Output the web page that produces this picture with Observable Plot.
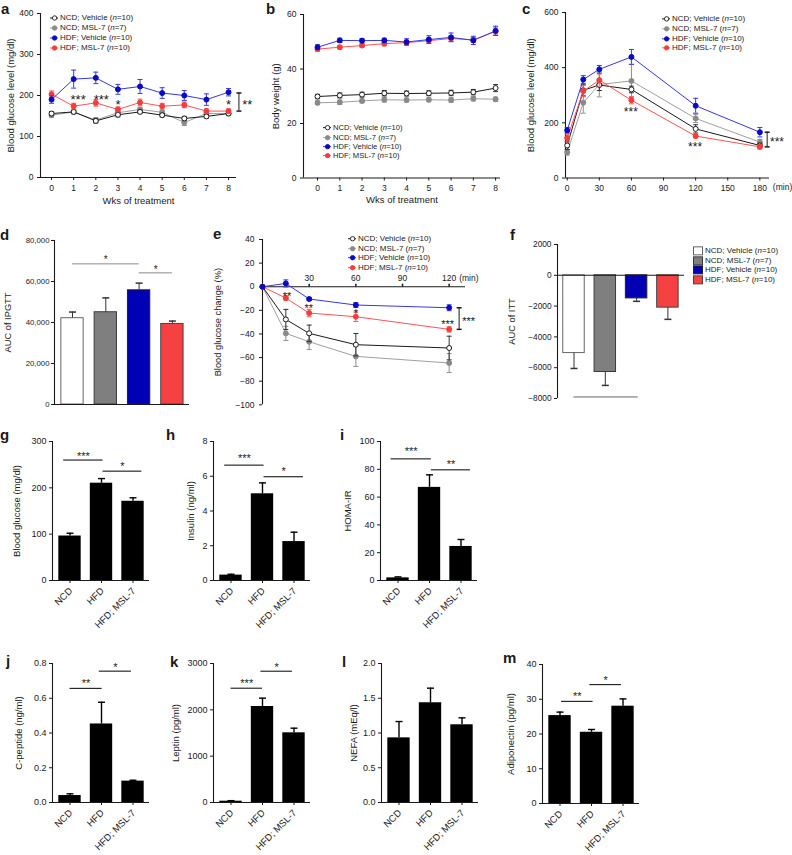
<!DOCTYPE html>
<html><head><meta charset="utf-8">
<script src="https://cdn.jsdelivr.net/npm/d3@7"></script>
<script src="https://cdn.jsdelivr.net/npm/@observablehq/plot@0.6"></script>
<style>
body{margin:0;background:#fff;}
#root{position:relative;width:792px;height:855px;overflow:hidden;font-family:"Liberation Sans",Arial,Helvetica,sans-serif;color:#1a1a1a;}
.plab{position:absolute;font-weight:bold;font-size:15px;line-height:15px;}
.legrow{position:absolute;white-space:nowrap;color:#222;}
.legrow svg{vertical-align:top;margin-right:1px;}
</style></head><body><div id="root"></div>
<script>
// ---------------- DATA ----------------
const groups = ["NCD; Vehicle", "NCD; MSL-7", "HDF; Vehicle", "HDF; MSL-7"];
const groupN = [10, 7, 10, 10];
const weeks = [0, 1, 2, 3, 4, 5, 6, 7, 8];

// a: fasting blood glucose (mg/dl) over weeks
const aNcdVeh = [156, 160, 138, 153, 160, 152, 144, 149, 156];
const aNcdVehErr = [5, 4, 5, 5, 4, 4, 5, 4, 4];
const aNcdMsl = [152, 160, 140, 158, 166, 159, 134, 156, 156];
const aNcdMslErr = [5, 5, 6, 5, 5, 5, 7, 5, 4];
const aHdfVeh = [190, 240, 243, 215, 222, 206, 200, 190, 208];
const aHdfVehErr = [9, 22, 14, 12, 17, 13, 12, 14, 9];
const aHdfMsl = [203, 174, 182, 166, 183, 174, 177, 162, 162];
const aHdfMslErr = [8, 7, 8, 6, 8, 7, 7, 5, 5];
const aStars = [{x: 1.2, y: 196, s: "***"}, {x: 2.25, y: 196, s: "***"}, {x: 3.0, y: 184, s: "*"}, {x: 8.0, y: 184, s: "*"}];
const aBracket = {x: 8.47, y1: 162, y2: 206, lx: 8.85, ly: 184, s: "**"};

// b: body weight (g)
const bNcdVeh = [29.9, 30.3, 30.6, 31.1, 31.0, 31.1, 31.2, 31.5, 33.0];
const bNcdVehErr = [0.8, 0.9, 0.9, 1.0, 0.9, 0.9, 1.0, 1.0, 1.3];
const bNcdMsl = [27.6, 27.8, 28.3, 28.7, 28.6, 28.7, 28.6, 29.1, 28.9];
const bNcdMslErr = [0.7, 0.8, 0.7, 0.8, 0.7, 0.7, 0.8, 0.8, 0.8];
const bHdfVeh = [48.0, 50.5, 50.4, 50.5, 49.9, 50.8, 51.6, 50.5, 54.0];
const bHdfVehErr = [0.9, 0.8, 0.8, 0.8, 1.2, 1.4, 1.6, 1.5, 1.7];
const bHdfMsl = [47.3, 48.0, 48.6, 49.3, 49.7, 50.4, 51.2, 50.7, 53.8];
const bHdfMslErr = [0.8, 0.6, 0.6, 0.8, 0.8, 0.9, 1.0, 0.9, 1.3];

// c: IPGTT blood glucose (mg/dl)
const cTime = [0, 15, 30, 60, 120, 180];
const cNcdVeh = [118, 318, 337, 321, 178, 118];
const cNcdVehErr = [15, 20, 20, 12, 15, 8];
const cNcdMsl = [93, 273, 339, 352, 216, 130];
const cNcdMslErr = [10, 38, 45, 60, 15, 10];
const cHdfVeh = [173, 357, 394, 439, 262, 166];
const cHdfVehErr = [10, 14, 14, 27, 27, 17];
const cHdfMsl = [145, 315, 355, 282, 152, 113];
const cHdfMslErr = [14, 20, 22, 13, 6, 8];
const cStars = [{x: 59.4, y: 248, s: "***"}, {x: 119.5, y: 121, s: "***"}];
const cBracket = {x: 186.8, y1: 113, y2: 166, lx: 196, ly: 140, s: "***"};

// d: AUC of IPGTT
const dAuc = [42100, 45000, 55700, 39300];
const dErr = [3000, 7000, 3500, 1400];
const dSig = [{a: 0, b: 2, y: 68600, sy: 71600, s: "*"}, {a: 2, b: 3, y: 64200, sy: 67000, s: "*"}];

// e: ITT blood glucose change (%)
const eTime = [0, 15, 30, 60, 120];
const eNcdVeh = [0, -27.7, -39.5, -49.1, -51.9];
const eNcdVehErr = [0, 8.5, 7, 9.5, 10];
const eNcdMsl = [0, -39.5, -46.6, -59, -64.6];
const eNcdMslErr = [0, 6, 6.5, 8.5, 8];
const eHdfVeh = [0, 2.8, -10.4, -15.5, -17.8];
const eHdfVehErr = [0, 3, 1.2, 2, 2.5];
const eHdfMsl = [0, -9.6, -22.3, -25.4, -36.1];
const eHdfMslErr = [0, 1.8, 3.2, 4, 2.2];
const eStars = [{x: 15.7, y: -5.6, s: "**"}, {x: 29.8, y: -15.5, s: "**"}, {x: 60, y: -19.8, s: "*"}, {x: 119, y: -29.6, s: "***"}];
const eBracket = {x: 126.4, y1: -36.1, y2: -17.8, lx: 132.5, ly: -27, s: "***"};
const eTicks = [30, 60, 90, 120];

// f: AUC of ITT
const fAuc = [-5050, -6280, -1500, -2100];
const fErr = [1000, 870, 190, 760];
const fSig = [{a: 0, b: 2.05, y: -7900}];

// g-m: serum parameters
const barGroups = ["NCD", "HFD", "HFD; MSL-7"];
const gVals = [96, 210, 171],      gErrs = [6, 10, 7.5];
const hVals = [0.31, 4.99, 2.24],  hErrs = [0.05, 0.63, 0.54];
const iVals = [1.9, 67, 24.5],     iErrs = [0.7, 9, 5];
const jVals = [0.04, 0.452, 0.123], jErrs = [0.01, 0.125, 0.005];
const kVals = [28, 2072, 1504],    kErrs = [12, 180, 100];
const lVals = [0.93, 1.435, 1.118], lErrs = [0.235, 0.21, 0.1];
const mVals = [25.3, 20.5, 28.0],  mErrs = [1.0, 0.8, 2.1];
const gSig = [{a: -0.2, b: 1.05, y: 260, sy: 274, s: "***"}, {a: 1.05, b: 2.28, y: 236, sy: 252, s: "*"}];
const hSig = [{a: -0.2, b: 1.05, y: 6.64, sy: 7.19, s: "***"}, {a: 1.05, b: 2.3, y: 5.97, sy: 6.46, s: "*"}];
const iSig = [{a: -0.22, b: 1.06, y: 87.5, sy: 94.7, s: "***"}, {a: 1.06, b: 2.3, y: 79.6, sy: 85.5, s: "**"}];
const jSig = [{a: 0, b: 1.02, y: 0.657, sy: 0.702, s: "**"}, {a: 0.93, b: 1.95, y: 0.756, sy: 0.794, s: "*"}];
const kSig = [{a: 0, b: 1.0, y: 2467, sy: 2640, s: "***"}, {a: 0.95, b: 1.95, y: 2834, sy: 2975, s: "*"}];
const lSig = [];
const mSig = [{a: 0.05, b: 1.05, y: 29.4, sy: 31.7, s: "**"}, {a: 0.95, b: 1.95, y: 34.2, sy: 36.3, s: "*"}];

// ---------------- HELPERS ----------------
const FONT = '"Liberation Sans", Arial, Helvetica, sans-serif';
const root = document.getElementById("root");
const STY = {
  "NCD; Vehicle": {line: "#1a1a1a", err: "#333333", fill: "#ffffff", stroke: "#1a1a1a"},
  "NCD; MSL-7":   {line: "#a0a0a0", err: "#8e8e8e", fill: "#8a8a8a", stroke: "#8a8a8a"},
  "HDF; Vehicle": {line: "#3636e6", err: "#3a3ae0", fill: "#0a0ac4", stroke: "#0a0ac4"},
  "HDF; MSL-7":   {line: "#ff5252", err: "#f05a5a", fill: "#f43c3c", stroke: "#f43c3c"}
};
const BARFILL = {"NCD; Vehicle": "#ffffff", "NCD; MSL-7": "#7f7f7f", "HDF; Vehicle": "#0000b4", "HDF; MSL-7": "#f54141"};
const BARSTROKE = {"NCD; Vehicle": "#666", "NCD; MSL-7": "#3a3a3a", "HDF; Vehicle": "#222", "HDF; MSL-7": "#444"};

const cap = {draw(ctx, size) { const r = Math.sqrt(size / Math.PI); ctx.moveTo(-r, 0); ctx.lineTo(r, 0); }};
const tickUp = {draw(ctx, size) { const r = Math.sqrt(size / Math.PI); ctx.moveTo(0, 0); ctx.lineTo(0, -r); }};
const minusFmt = d => d < 0 ? "\u2212" + Math.abs(d) : String(d);

function mount(node, left, top) {
  node.style.position = "absolute";
  node.style.left = left + "px";
  node.style.top = top + "px";
  root.appendChild(node);
}
function panel({x0, x1, y0, y1, xDomain, yDomain, fontSize = 8.5, marks}) {
  const svg = Plot.plot({
    width: x1 - x0, height: y1 - y0,
    marginLeft: 0, marginRight: 0, marginTop: 0, marginBottom: 0,
    x: {domain: xDomain, axis: null, label: null},
    y: {domain: yDomain, axis: null, label: null},
    style: `background:transparent;overflow:visible;font-family:${FONT};font-size:${fontSize}px;color:#1a1a1a;`,
    marks
  });
  mount(svg, x0, y0);
}
function rows(xs, vals, errs, g) { return xs.map((x, i) => ({x, v: vals[i], e: errs[i], g})); }
function seriesMarks(d, g, capR = 2.5) {
  const s = STY[g];
  const de = d.filter(q => q.e > 0);
  return [
    Plot.line(d, {x: "x", y: "v", stroke: s.line, strokeWidth: 1}),
    Plot.ruleX(de, {x: "x", y1: q => q.v - q.e, y2: q => q.v + q.e, stroke: s.err, strokeWidth: 1}),
    Plot.dot(de, {x: "x", y: q => q.v + q.e, symbol: cap, r: capR, stroke: s.err, fill: "none", strokeWidth: 1}),
    Plot.dot(de, {x: "x", y: q => q.v - q.e, symbol: cap, r: capR, stroke: s.err, fill: "none", strokeWidth: 1}),
    Plot.dot(d, {x: "x", y: "v", r: 2.5, fill: s.fill, stroke: s.stroke, strokeWidth: 1})
  ];
}
function bracketMarks(b, fs) {
  return [
    Plot.ruleX([b], {x: "x", y1: "y1", y2: "y2", stroke: "#1a1a1a"}),
    Plot.dot([b.y1, b.y2], {x: () => b.x, y: d => d, symbol: cap, r: 2.5, stroke: "#1a1a1a", fill: "none"}),
    Plot.text([b], {x: "lx", y: "ly", text: "s", fontSize: fs, dy: 3})
  ];
}
function axisLines(xd, yd, yAt = yd[0]) {
  return [Plot.ruleX([xd[0]], {strokeWidth: 1.1}), Plot.ruleY([yAt], {strokeWidth: 1.1})];
}
function ylabel(t, dx, fs = 9.5) { return Plot.text([t], {text: d => d, frameAnchor: "left", textAnchor: "middle", rotate: -90, dx, fontSize: fs}); }
function xlabel(t, dy, fs = 9.5) { return Plot.text([t], {text: d => d, frameAnchor: "bottom", textAnchor: "middle", dy, fontSize: fs}); }

function lineLegend(left, top, rowH, fs) {
  groups.forEach((g, i) => {
    const s = STY[g];
    const row = document.createElement("div");
    row.className = "legrow";
    row.style.cssText = `left:${left}px;top:${top + i * rowH}px;font-size:${fs}px;line-height:${rowH}px;height:${rowH}px;`;
    const c = rowH / 2;
    row.innerHTML = `<svg width="9" height="${rowH}"><line x1="0" x2="8" y1="${c}" y2="${c}" stroke="${s.line}" stroke-width="1"/><circle cx="4.6" cy="${c}" r="2.2" fill="${s.fill}" stroke="${s.stroke}" stroke-width="0.9"/></svg>${g} (<i>n</i>=${groupN[i]})`;
    root.appendChild(row);
  });
}
function boxLegend(left, top, rowH, fs) {
  groups.forEach((g, i) => {
    const row = document.createElement("div");
    row.className = "legrow";
    row.style.cssText = `left:${left}px;top:${top + i * rowH}px;font-size:${fs}px;line-height:${rowH}px;height:${rowH}px;`;
    row.innerHTML = `<svg width="11" height="${rowH}"><rect x="0.5" y="${(rowH - 8) / 2}" width="9" height="8" fill="${BARFILL[g]}" stroke="${BARSTROKE[g]}" stroke-width="1"/></svg>${g} (<i>n</i>=${groupN[i]})`;
    root.appendChild(row);
  });
}
function letter(t, left, top) {
  const d = document.createElement("div");
  d.className = "plab"; d.textContent = t;
  d.style.left = left + "px"; d.style.top = top + "px";
  root.appendChild(d);
}

// ---------------- PANEL a ----------------
{
  const xd = [-0.5, 8.36], yd = [0, 400];
  const sets = [["NCD; MSL-7", aNcdMsl, aNcdMslErr], ["NCD; Vehicle", aNcdVeh, aNcdVehErr], ["HDF; MSL-7", aHdfMsl, aHdfMslErr], ["HDF; Vehicle", aHdfVeh, aHdfVehErr]];
  panel({x0: 40, x1: 236, y0: 13, y1: 177, xDomain: xd, yDomain: yd, marks: [
    Plot.axisY({ticks: [0, 100, 200, 300, 400], tickSize: 3, tickPadding: 4, tickFormat: String, label: null}),
    Plot.axisX({ticks: weeks, tickSize: 3, tickPadding: 4, tickFormat: String, label: null}),
    ...axisLines(xd, yd),
    ...sets.flatMap(([g, v, e]) => seriesMarks(rows(weeks, v, e, g), g)),
    Plot.text(aStars, {x: "x", y: "y", text: "s", fontSize: 13, dy: 3}),
    ...bracketMarks(aBracket, 13),
    ylabel("Blood glucose level (mg/dl)", -30),
    xlabel("Wks of treatment", 26)
  ]});
  lineLegend(50, 13.3, 10, 8);
}
// ---------------- PANEL b ----------------
{
  const xd = [-0.63, 8.22], yd = [0, 60];
  const sets = [["NCD; MSL-7", bNcdMsl, bNcdMslErr], ["NCD; Vehicle", bNcdVeh, bNcdVehErr], ["HDF; MSL-7", bHdfMsl, bHdfMslErr], ["HDF; Vehicle", bHdfVeh, bHdfVehErr]];
  panel({x0: 303, x1: 500, y0: 13.5, y1: 177, xDomain: xd, yDomain: yd, marks: [
    Plot.axisY({ticks: [0, 20, 40, 60], tickSize: 3, tickPadding: 4, tickFormat: String, label: null}),
    Plot.axisX({ticks: weeks, tickSize: 3, tickPadding: 4, tickFormat: String, label: null}),
    ...axisLines(xd, yd),
    ...sets.flatMap(([g, v, e]) => seriesMarks(rows(weeks, v, e, g), g)),
    ylabel("Body weight (g)", -28),
    xlabel("Wks of treatment", 25)
  ]});
  lineLegend(323, 123.3, 9.3, 7.6);
}
// ---------------- PANEL c ----------------
{
  const xd = [-1.6, 189], yd = [0, 600];
  const sets = [["NCD; MSL-7", cNcdMsl, cNcdMslErr], ["NCD; Vehicle", cNcdVeh, cNcdVehErr], ["HDF; MSL-7", cHdfMsl, cHdfMslErr], ["HDF; Vehicle", cHdfVeh, cHdfVehErr]];
  panel({x0: 565, x1: 769, y0: 11.5, y1: 177, xDomain: xd, yDomain: yd, marks: [
    Plot.axisY({ticks: [0, 200, 400, 600], tickSize: 3, tickPadding: 4, tickFormat: String, label: null}),
    Plot.axisX({ticks: [0, 30, 60, 90, 120, 150, 180], tickSize: 3, tickPadding: 4, tickFormat: String, label: null}),
    Plot.text(["(min)"], {text: d => d, x: 180, frameAnchor: "bottom", dx: 13, dy: 12, textAnchor: "start", fontSize: 8.5}),
    ...axisLines(xd, yd),
    ...sets.flatMap(([g, v, e]) => seriesMarks(rows(cTime, v, e, g), g)),
    Plot.text(cStars, {x: "x", y: "y", text: "s", fontSize: 12, dy: 3}),
    ...bracketMarks(cBracket, 12),
    ylabel("Blood glucose level (mg/dl)", -35)
  ]});
  lineLegend(662, 14.2, 9.7, 8);
}
// ---------------- PANEL d ----------------
{
  const xd = [-18 / 33.3, 117 / 33.3], yd = [0, 80000];
  const bars = groups.map((g, i) => ({i, g, v: dAuc[i], e: dErr[i]}));
  panel({x0: 54, x1: 189, y0: 240, y1: 404, xDomain: xd, yDomain: yd, fontSize: 7.8, marks: [
    Plot.rect(bars, {x1: d => d.i - 0.335, x2: d => d.i + 0.335, y1: 0, y2: "v", fill: d => BARFILL[d.g], stroke: d => BARSTROKE[d.g], strokeWidth: 1}),
    Plot.ruleX(bars, {x: "i", y1: "v", y2: d => d.v + d.e, stroke: "#333"}),
    Plot.dot(bars, {x: "i", y: d => d.v + d.e, symbol: cap, r: 3.5, stroke: "#333", fill: "none"}),
    Plot.axisY({ticks: [0, 20000, 40000, 60000, 80000], tickSize: 3, tickPadding: 2, tickFormat: d3.format(","), label: null}),
    ...axisLines(xd, yd),
    Plot.ruleY(dSig, {y: "y", x1: "a", x2: "b", stroke: "#888", strokeWidth: 1}),
    Plot.text(dSig, {x: d => (d.a + d.b) / 2, y: "sy", text: "s", fontSize: 10, dy: 2.5}),
    ylabel("AUC of IPGTT", -46, 9.3)
  ]});
}
// ---------------- PANEL e ----------------
{
  const xd = [0, 130.5], yd = [-100, 40];
  const sets = [["NCD; MSL-7", eNcdMsl, eNcdMslErr], ["NCD; Vehicle", eNcdVeh, eNcdVehErr], ["HDF; MSL-7", eHdfMsl, eHdfMslErr], ["HDF; Vehicle", eHdfVeh, eHdfVehErr]];
  panel({x0: 262, x1: 465, y0: 239, y1: 404.3, xDomain: xd, yDomain: yd, marks: [
    Plot.axisY({ticks: [-100, -80, -60, -40, -20, 0, 20, 40], tickSize: 3, tickPadding: 5, tickFormat: minusFmt, label: null}),
    Plot.ruleX([0], {strokeWidth: 1.1}),
    Plot.ruleY([0], {strokeWidth: 1.1}),
    Plot.dot(eTicks, {x: d => d, y: 0, symbol: tickUp, r: 3, stroke: "#1a1a1a", fill: "none"}),
    Plot.text(eTicks, {x: d => d, y: 0, text: d => String(d), dy: -8, fontSize: 8.5}),
    Plot.text(["(min)"], {text: d => d, x: 120, y: 0, dx: 10, dy: -8, textAnchor: "start", fontSize: 8.5}),
    ...sets.flatMap(([g, v, e]) => seriesMarks(rows(eTime, v, e, g), g)),
    Plot.text(eStars, {x: "x", y: "y", text: "s", fontSize: 11, dy: 3}),
    ...bracketMarks(eBracket, 11),
    ylabel("Blood glucose change (%)", -44, 9.3)
  ]});
  lineLegend(348, 234.3, 9.4, 8);
}
// ---------------- PANEL f ----------------
{
  const xd = [-16.5 / 31.3, 110.5 / 31.3], yd = [-8000, 2000];
  const bars = groups.map((g, i) => ({i, g, v: fAuc[i], e: fErr[i]}));
  panel({x0: 557, x1: 684, y0: 244, y1: 398, xDomain: xd, yDomain: yd, fontSize: 8.3, marks: [
    Plot.rect(bars, {x1: d => d.i - 0.343, x2: d => d.i + 0.343, y1: 0, y2: "v", fill: d => BARFILL[d.g], stroke: d => BARSTROKE[d.g], strokeWidth: 1}),
    Plot.ruleX(bars, {x: "i", y1: "v", y2: d => d.v - d.e, stroke: "#333"}),
    Plot.dot(bars, {x: "i", y: d => d.v - d.e, symbol: cap, r: 3.5, stroke: "#333", fill: "none"}),
    Plot.axisY({ticks: [-8000, -6000, -4000, -2000, 0, 2000], tickSize: 3, tickPadding: 3, tickFormat: minusFmt, label: null}),
    Plot.ruleX([xd[0]], {strokeWidth: 1.1}),
    Plot.ruleY([0], {strokeWidth: 1.1}),
    Plot.ruleY(fSig, {y: "y", x1: "a", x2: "b", stroke: "#666", strokeWidth: 1}),
    ylabel("AUC of ITT", -45, 9.3)
  ]});
  boxLegend(693, 246, 9.7, 8);
}
// ---------------- PANELS g-m ----------------
function lowerPanel(p) {
  const first = 17.5, step = 31.5, w = 97;
  const xd = [-first / step, (w - first) / step], yd = [0, p.max];
  const bars = barGroups.map((g, i) => ({i, g, v: p.vals[i], e: p.errs[i]}));
  panel({x0: p.ax, x1: p.ax + w, y0: p.top, y1: p.bottom, xDomain: xd, yDomain: yd, fontSize: 9, marks: [
    Plot.rect(bars, {x1: d => d.i - 0.355, x2: d => d.i + 0.355, y1: 0, y2: "v", fill: "#000"}),
    Plot.ruleX(bars, {x: "i", y1: "v", y2: d => d.v + d.e, stroke: "#000", strokeWidth: 1.4}),
    Plot.dot(bars, {x: "i", y: d => d.v + d.e, symbol: cap, r: 3.5, stroke: "#000", strokeWidth: 1.4, fill: "none"}),
    Plot.axisY({ticks: p.ticks, tickSize: 3, tickPadding: 3, tickFormat: p.fmt, label: null}),
    Plot.axisX({ticks: [0, 1, 2], tickSize: 3, tickFormat: () => "", label: null}),
    ...axisLines(xd, yd),
    Plot.text(bars, {x: "i", frameAnchor: "bottom", text: "g", rotate: -45, textAnchor: "end", dx: 3, dy: 11, fontSize: 9.5}),
    Plot.ruleY(p.sig, {y: "y", x1: "a", x2: "b", stroke: "#000", strokeWidth: 1}),
    Plot.text(p.sig, {x: d => (d.a + d.b) / 2, y: "sy", text: "s", fontSize: 11, dy: 3}),
    ylabel(p.label, p.ldx, 9.5)
  ]});
}
const f1 = d3.format(".1f");
lowerPanel({ax: 52,  top: 441, bottom: 580, max: 300,  ticks: [0, 100, 200, 300], fmt: String, vals: gVals, errs: gErrs, sig: gSig, label: "Blood glucose (mg/dl)", ldx: -36});
lowerPanel({ax: 213, top: 441, bottom: 580, max: 8,    ticks: [0, 2, 4, 6, 8], fmt: String, vals: hVals, errs: hErrs, sig: hSig, label: "Insulin (ng/ml)", ldx: -23});
lowerPanel({ax: 380, top: 441, bottom: 580, max: 100,  ticks: [0, 20, 40, 60, 80, 100], fmt: String, vals: iVals, errs: iErrs, sig: iSig, label: "HOMA-IR", ldx: -33});
lowerPanel({ax: 52,  top: 663, bottom: 802, max: 0.8,  ticks: [0, 0.2, 0.4, 0.6, 0.8], fmt: f1, vals: jVals, errs: jErrs, sig: jSig, label: "C-peptide (ng/ml)", ldx: -34});
lowerPanel({ax: 213, top: 663, bottom: 802, max: 3000, ticks: [0, 1000, 2000, 3000], fmt: String, vals: kVals, errs: kErrs, sig: kSig, label: "Leptin (pg/ml)", ldx: -38});
lowerPanel({ax: 381, top: 663, bottom: 802, max: 2,    ticks: [0, 0.5, 1, 1.5, 2], fmt: f1, vals: lVals, errs: lErrs, sig: lSig, label: "NEFA (mEq/l)", ldx: -28});
lowerPanel({ax: 542, top: 664, bottom: 803, max: 40,   ticks: [0, 10, 20, 30, 40], fmt: String, vals: mVals, errs: mErrs, sig: mSig, label: "Adiponectin (pg/ml)", ldx: -32});

// ---------------- PANEL LETTERS ----------------
letter("a", 1, 1); letter("b", 266, 1); letter("c", 522, 1);
letter("d", 0, 227); letter("e", 213, 226); letter("f", 510, 227);
letter("g", 0, 427); letter("h", 166, 427); letter("i", 340, 427);
letter("j", 6, 653); letter("k", 170, 654); letter("l", 342, 654); letter("m", 503, 650);
</script></body></html>
